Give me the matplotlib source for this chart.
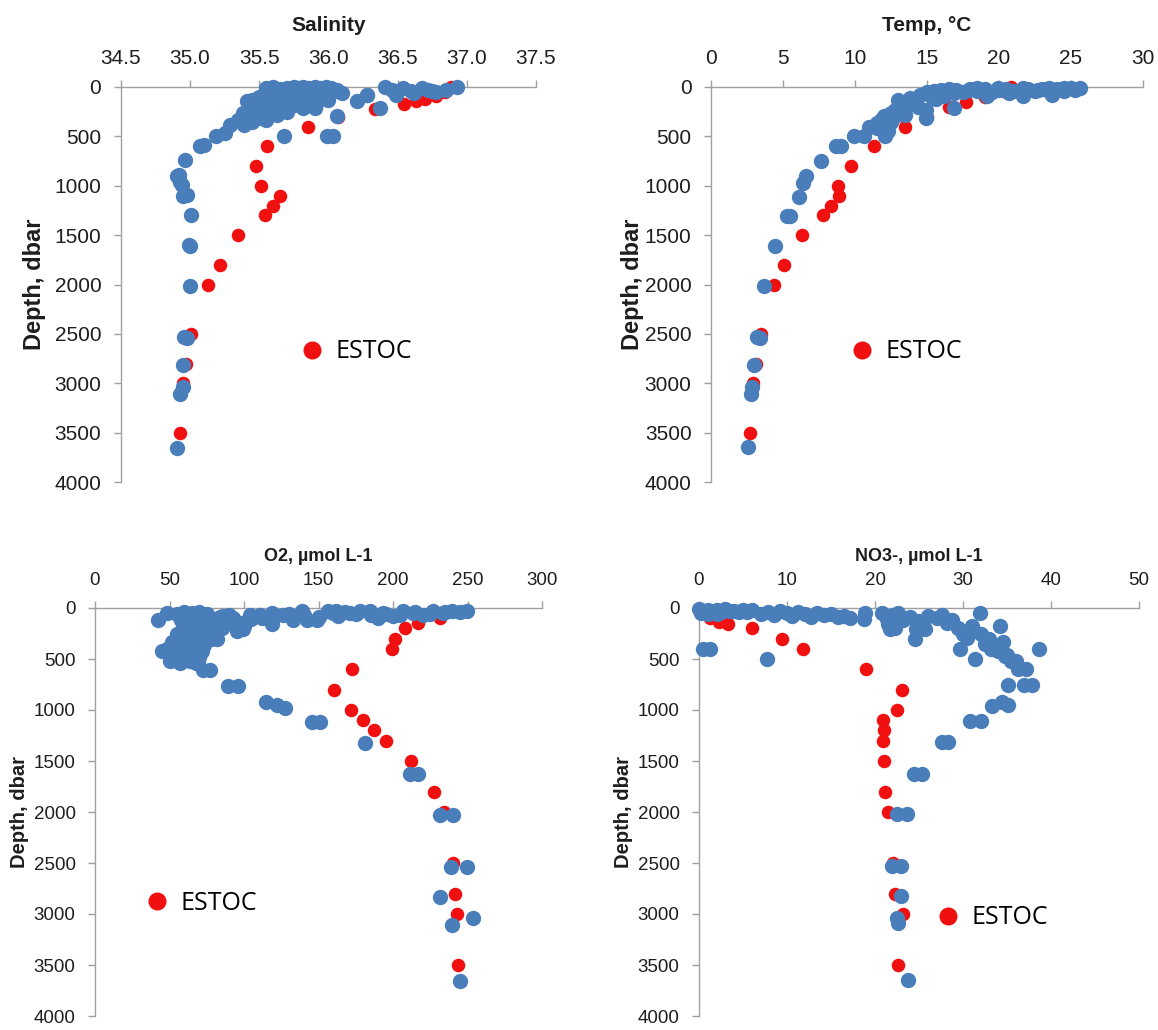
#!/usr/bin/env python3

import numpy as np
import matplotlib
matplotlib.use("Agg")
import matplotlib.pyplot as plt
from matplotlib.lines import Line2D
from matplotlib.ticker import FormatStrFormatter

plt.rcParams["font.family"] = ["Liberation Sans", "DejaVu Sans"]

# Salinity profiles: (salinity, depth dbar)
sal_estoc = [36.885, 36.84, 36.78, 36.70, 36.63, 36.55, 36.34, 36.07, 35.85,
             35.56, 35.48, 35.51, 35.65, 35.60, 35.54, 35.35, 35.22, 35.13,
             35.005, 34.97, 34.95, 34.93]
sal_estoc_depth = [0, 50, 90, 125, 140, 175, 225, 300, 400, 600, 800, 1000,
                   1100, 1200, 1300, 1500, 1800, 2000, 2500, 2800, 3000, 3500]
sal_other = [35.55, 35.60, 35.65, 35.70, 35.75, 35.78, 35.82, 35.86, 35.90,
             35.94, 35.98, 36.02, 36.06, 36.10, 36.28, 36.41, 36.46, 36.54,
             36.60, 36.675, 36.72, 36.78, 36.93,
             35.45, 35.50, 35.55, 35.60, 35.65, 35.70, 35.75, 35.80, 35.85,
             35.90, 35.95, 36.00, 35.90, 35.82, 35.75, 35.68, 35.60, 35.53,
             35.41, 35.43, 35.51, 35.63, 35.58, 35.48, 35.39, 35.29, 35.35,
             35.45, 35.55, 35.70, 36.21, 36.28, 36.37, 36.49, 36.62, 36.75,
             36.85, 36.06, 35.68, 35.99, 36.03, 35.19, 35.25, 35.07, 35.10,
             34.965, 34.92, 34.91, 34.93, 34.94, 34.98, 34.95, 35.01, 34.99,
             35.00, 35.00, 34.96, 34.98, 34.95, 34.95, 34.93, 34.91,
             35.62, 35.72, 35.85, 35.95, 36.05, 35.66, 35.78, 35.92, 35.38,
             35.47, 35.57]
sal_other_depth = [10, 5, 20, 10, 5, 15, 5, 10, 5, 15, 5, 10, 30, 61, 78, 0,
                   30, 10, 40, 10, 30, 50, 3,
                   130, 100, 80, 60, 90, 70, 110, 80, 120, 90, 60, 130, 213,
                   213, 180, 200, 150, 145, 145, 280, 314, 280, 230, 230, 382,
                   382, 330, 350, 330, 250, 145, 78, 213, 78, 61, 44, 30, 297,
                   494, 494, 494, 500, 470, 601, 590, 736, 888, 900, 957, 989,
                   1090, 1100, 1293, 1597, 1609, 2015, 2529, 2540, 2816, 3036,
                   3105, 3660,
                   40, 45, 50, 40, 45, 160, 170, 150, 260, 300, 270]

# Temperature profiles: (degC, depth dbar)
temp_estoc = [20.8, 20.5, 19.0, 17.7, 16.5, 15.0, 13.5, 11.3, 9.75, 8.8, 8.9,
              8.3, 7.8, 6.3, 5.1, 4.4, 3.45, 3.1, 2.9, 2.7]
temp_estoc_depth = [0, 50, 100, 150, 200, 300, 400, 600, 800, 1000, 1100,
                    1200, 1300, 1500, 1800, 2000, 2500, 2800, 3000, 3500]
temp_other = [2.6, 2.75, 2.85, 3.0, 3.2, 3.4, 3.7, 4.45, 5.5, 5.3, 6.1, 6.4,
              6.6, 7.65, 8.7, 9.05, 9.96, 10.6, 11.0, 11.5, 12.1, 12.3, 12.0,
              11.8, 12.8, 13.1, 13.8, 14.9, 14.9, 15.3, 15.95, 16.85, 16.85,
              17.9, 18.5, 19.15, 19.9, 20.7, 21.7, 21.7, 22.7, 23.5, 23.7,
              24.5, 25.3, 25.65,
              14.0, 14.5, 15.0, 15.5, 16.0, 16.5, 17.0, 17.5, 18.0, 18.5,
              19.0, 19.5, 20.0, 20.5, 21.0, 21.5, 22.0, 22.5, 23.0, 23.5,
              24.0, 24.5, 25.0, 13.3, 12.5, 12.0, 11.5, 12.5, 13.5,
              13.0, 13.6, 14.2, 12.7, 14.4, 15.6, 16.2]
temp_other_depth = [3645, 3104, 3036, 2816, 2529, 2540, 2015, 1609, 1305,
                    1310, 1109, 974, 906, 754, 602, 602, 500, 500, 400, 365,
                    500, 450, 298, 330, 230, 162, 112, 230, 314, 95, 27, 61,
                    213, 27, 10, 95, 10, 61, 10, 95, 27, 10, 78, 10, 27, 10,
                    150, 80, 50, 40, 60, 20, 30, 50, 20, 40, 20, 50, 30, 20,
                    40, 30, 20, 40, 20, 40, 20, 40, 15, 200, 260, 380, 420,
                    350, 280,
                    130, 180, 120, 300, 200, 120, 90]

# Dissolved oxygen profiles: (umol/L, depth dbar)
o2_estoc = [231.5, 217, 208, 201.3, 199, 172.2, 160.6, 171.6, 179.6, 187.2,
            195, 211.8, 227.7, 234, 240.4, 241.6, 242.9, 243.6]
o2_estoc_depth = [100, 150, 200, 300, 400, 600, 800, 1000, 1100, 1200, 1300,
                  1500, 1800, 2000, 2500, 2800, 3000, 3500]
o2_other = [249.4, 239.3, 233.8, 227, 220, 213.6, 207, 200, 193.5, 190, 184.5,
            177.8, 171, 163.3, 162, 156.6, 148.7, 142, 138.7, 133, 126.4,
            118.5, 118.5, 110.7, 104, 99.5, 95, 92.8, 86.1, 81.6, 77.2, 72.7,
            77.2, 42.5, 48, 44.7, 54.8, 63.7, 89.5, 96.2, 115, 122, 127.5,
            145.4, 151, 181.2, 211.4, 217, 231.7, 240.4, 239, 249.6, 231.7,
            253.5, 239.6, 245.3,
            55, 60, 65, 70, 75, 58, 63, 68, 73, 78, 83, 88, 93, 98, 60, 65,
            70, 75, 80, 57, 62, 67, 72, 52, 57, 62, 67, 72, 50, 55, 60, 65,
            70, 68, 57, 78, 85, 100, 105, 112, 120, 130, 140, 150, 160, 168,
            175, 185, 195, 205, 215, 225, 235, 245,
            48, 52, 54, 58, 62, 66, 70, 74, 50, 56, 60, 64, 68, 72, 76, 55,
            59, 63, 67, 71, 61, 65, 69, 73, 77, 80, 84, 90]
o2_other_depth = [26, 32, 48, 32, 64, 48, 32, 80, 48, 97, 32, 32, 45, 80, 30,
                  32, 113, 113, 32, 113, 64, 161, 48, 64, 64, 209, 225, 97,
                  80, 306, 97, 612, 612, 122, 48, 418, 515, 515, 766, 766,
                  918, 950, 982, 1120, 1120, 1320, 1626, 1626, 2027, 2027,
                  2535, 2535, 2830, 3044, 3106, 3657,
                  60, 40, 50, 40, 60, 120, 150, 100, 130, 110, 160, 140, 170,
                  150, 200, 250, 220, 200, 250, 300, 330, 300, 350, 380, 420,
                  400, 450, 420, 470, 450, 500, 520, 480, 540, 540, 300, 200,
                  180, 110, 100, 80, 60, 70, 90, 50, 40, 60, 70, 60, 70, 40,
                  60, 40, 40,
                  400, 330, 440, 360, 470, 380, 310, 260, 520, 500, 280, 230,
                  340, 190, 150, 250, 180, 100, 270, 430, 470, 160, 520, 360,
                  200, 130, 90, 70]

# Nitrate profiles: (umol/L, depth dbar)
no3_estoc = [0.3, 1.25, 2.3, 3.3, 6.0, 9.4, 11.8, 19.0, 23.1, 22.5, 20.9,
             21.0, 20.9, 21.0, 21.1, 21.5, 22.0, 22.3, 23.2, 22.6]
no3_estoc_depth = [50, 100, 135, 160, 200, 300, 400, 600, 800, 1000, 1100,
                   1200, 1300, 1500, 1800, 2000, 2500, 2800, 3000, 3500]
no3_other = [0, 0.5, 1, 1.5, 2, 2.5, 3, 3.5, 4, 4.5, 5, 5.5, 6, 0.2, 1.0, 2.0,
             7, 7.8, 8.5, 9.2, 10, 10.6, 11.3, 12, 12.7, 13.4, 14.2, 15, 15.8,
             16.5, 17.2, 18.9, 18.8,
             20.8, 21.4, 22.0, 22.6, 23.2, 21.5, 22.3, 21.7, 24.7, 24.5, 25.7,
             24.0, 25.0, 26.0, 27.0, 27.6, 28.2, 28.8, 29.4, 30.0, 30.4, 29.7,
             31.4, 31.9, 31.0, 32.0, 32.5, 33.0, 33.5, 34.0, 34.5, 35.0, 35.5,
             34.2, 33.2, 34.8, 36.0, 38.6, 0.5, 1.25, 7.7, 36.3, 37.2, 35.1,
             36.9, 37.8, 33.3, 34.4, 35.1, 30.8, 32.0, 27.6, 28.3, 24.4, 25.3,
             22.5, 23.6, 21.9, 23.0, 22.9, 22.5, 22.6, 23.7]
no3_other_depth = [10, 30, 15, 40, 20, 35, 10, 30, 25, 40, 20, 35, 15, 50, 60,
                   55, 60, 40, 70, 30, 50, 80, 40, 60, 85, 50, 70, 60, 90, 80,
                   100, 48, 110,
                   48, 110, 70, 48, 120, 160, 200, 210, 210, 306, 210, 90, 130,
                   80, 100, 64, 150, 120, 200, 250, 290, 403, 499, 48, 180, 258,
                   350, 300, 380, 420, 330, 460, 515, 177, 400, 470, 520, 403,
                   403, 403, 499, 596, 596, 757, 757, 757, 960, 918, 950, 1110,
                   1110, 1310, 1310, 1626, 1626, 2016, 2016, 2532, 2532, 2826,
                   3044, 3093, 3648]

BLUE = "#4a7ebb"
RED = "#f01010"
AXIS_GREY = "#a0a0a0"
TEXT = "#1e1e1e"

W, H = 1158, 1030


def px_axes(fig, x0, x1, y0, y1):
    """Create axes from pixel edges measured from the top-left corner."""
    return fig.add_axes([x0 / W, 1 - y1 / H, (x1 - x0) / W, (y1 - y0) / H])


def profile(ax, title, xlim, xstep, fmt, other, other_d, estoc, estoc_d,
            tick_size, title_size, title_pad, label_x, label_size):
    ax.scatter(estoc, estoc_d, s=95, color=RED, linewidths=0, zorder=3,
               clip_on=False)
    ax.scatter(other, other_d, s=122, color=BLUE, linewidths=0, zorder=4,
               clip_on=False)
    ax.set_xlim(*xlim)
    ax.set_ylim(4000, 0)
    ax.set_xticks(np.arange(xlim[0], xlim[1] + xstep / 2, xstep))
    ax.set_yticks(np.arange(0, 4001, 500))
    ax.xaxis.set_major_formatter(FormatStrFormatter(fmt))
    ax.xaxis.tick_top()
    for side in ("right", "bottom"):
        ax.spines[side].set_visible(False)
    for side in ("left", "top"):
        ax.spines[side].set_color(AXIS_GREY)
        ax.spines[side].set_linewidth(1.0)
    ax.tick_params(axis="both", direction="out", length=5, width=1,
                   color=AXIS_GREY, labelcolor=TEXT, labelsize=tick_size)
    ax.tick_params(axis="x", pad=9)
    ax.tick_params(axis="y", pad=9)
    ax.set_title(title, fontsize=title_size, fontweight="bold", color=TEXT,
                 pad=title_pad)
    ax.set_ylabel("Depth, dbar", fontsize=label_size, fontweight="bold",
                  color=TEXT)
    ax.yaxis.set_label_coords(label_x, 0.5)


def estoc_key(fig, ax, cx, cy):
    handle = Line2D([], [], marker="o", ls="", color=RED, markersize=13,
                    markeredgewidth=0)
    ax.legend([handle], ["ESTOC"], loc="center",
              bbox_to_anchor=(cx / W, 1 - cy / H),
              bbox_transform=fig.transFigure, frameon=False,
              handlelength=0.7, handletextpad=0.6, borderpad=0,
              prop={"family": "Open Sans", "size": 18})


fig = plt.figure(figsize=(W / 100, H / 100), dpi=100)
fig.patch.set_facecolor("white")

ax1 = px_axes(fig, 120.7, 536, 87, 482)
profile(ax1, "Salinity", (34.5, 37.5), 0.5, "%.1f", sal_other,
        sal_other_depth, sal_estoc, sal_estoc_depth,
        15, 15, 40, -0.18, 17)
estoc_key(fig, ax1, 358, 352)

ax2 = px_axes(fig, 711, 1143, 87, 482)
profile(ax2, "Temp, °C", (0, 30), 5, "%d", temp_other, temp_other_depth,
        temp_estoc, temp_estoc_depth, 15, 15, 40, -0.155, 17)
estoc_key(fig, ax2, 908, 352)

ax3 = px_axes(fig, 95, 542, 608, 1016)
profile(ax3, "O2, µmol L-1", (0, 300), 50, "%d", o2_other, o2_other_depth,
        o2_estoc, o2_estoc_depth, 13.5, 13, 34, -0.148, 14.5)
estoc_key(fig, ax3, 203, 903)

ax4 = px_axes(fig, 699, 1139, 608, 1016)
profile(ax4, "NO3-, µmol L-1", (0, 50), 10, "%d", no3_other, no3_other_depth,
        no3_estoc, no3_estoc_depth, 13.5, 13, 34, -0.15, 14.5)
estoc_key(fig, ax4, 994, 918)

fig.savefig("out.png", dpi=100)
